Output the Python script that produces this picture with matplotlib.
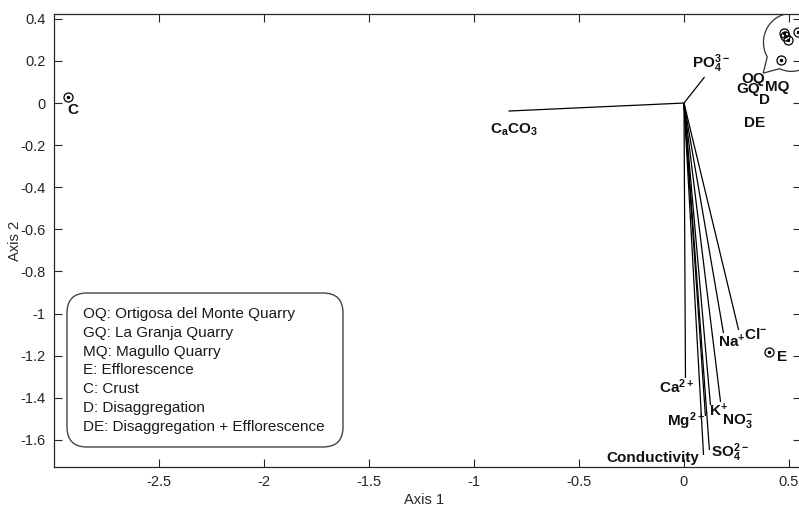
import numpy as np
import matplotlib
matplotlib.use("Agg")
import matplotlib.pyplot as plt
from matplotlib.patches import FancyBboxPatch, PathPatch
from matplotlib.path import Path
from matplotlib.transforms import IdentityTransform

plt.rcParams['font.family'] = ['Liberation Sans', 'DejaVu Sans']
plt.rcParams['axes.unicode_minus'] = False
plt.rcParams['mathtext.fontset'] = 'custom'
plt.rcParams['mathtext.bf'] = 'Liberation Sans:bold'
plt.rcParams['mathtext.rm'] = 'Liberation Sans:bold'
plt.rcParams['mathtext.default'] = 'bf'

# ---------------- data ----------------
vec_names = ['C$_a$CO$_3$', 'PO$_4^{3-}$', 'Ca$^{2+}$', 'Mg$^{2+}$', 'K$^{+}$',
             'NO$_3^{-}$', 'SO$_4^{2-}$', 'Conductivity', 'Na$^{+}$', 'Cl$^{-}$']
vec_x = [-0.836, 0.098, 0.007, 0.102, 0.126, 0.174, 0.121, 0.093, 0.188, 0.260]
vec_y = [-0.038, 0.124, -1.306, -1.487, -1.435, -1.420, -1.648, -1.672, -1.093, -1.078]

sample_names = ['OQ', 'GQ', 'MQ', 'D', 'DE', 'E', 'C']
sample_x = [0.474, 0.493, 0.545, 0.483, 0.464, 0.406, -2.935]
sample_y = [0.333, 0.299, 0.337, 0.318, 0.204, -1.183, 0.028]

x_ticks = [-2.5, -2, -1.5, -1, -0.5, 0, 0.5]
x_ticklabels = ['-2.5', '-2', '-1.5', '-1', '-0.5', '0', '0.5']
y_ticks = [0.4, 0.2, 0, -0.2, -0.4, -0.6, -0.8, -1, -1.2, -1.4, -1.6]
y_ticklabels = ['0.4', '0.2', '0', '-0.2', '-0.4', '-0.6', '-0.8', '-1', '-1.2', '-1.4', '-1.6']

legend_lines = ['OQ: Ortigosa del Monte Quarry', 'GQ: La Granja Quarry',
                'MQ: Magullo Quarry', 'E: Efflorescence', 'C: Crust',
                'D: Disaggregation', 'DE: Disaggregation + Efflorescence']

# ---------------- layout / style ----------------
W, H = 799, 509
vec_label_style = {  # offset in pixels (x right, y up), ha
    'C$_a$CO$_3$': ((6, -19), 'center'),
    'PO$_4^{3-}$': ((-13, 13), 'left'),
    'Ca$^{2+}$': ((-9, -9), 'center'),
    'Mg$^{2+}$': ((0, -5), 'right'),
    'K$^{+}$': ((-1, -6), 'left'),
    'NO$_3^{-}$': ((1, -19), 'left'),
    'SO$_4^{2-}$': ((2, -3), 'left'),
    'Conductivity': ((-4, -3), 'right'),
    'Na$^{+}$': ((-5, -9), 'left'),
    'Cl$^{-}$': ((5, -5), 'left'),
}
sample_label_off = {'OQ': (-30, -46), 'GQ': (-39, -49), 'MQ': (-21, -55),
                    'D': (-21, -64), 'DE': (-27, -63), 'E': (13, -5), 'C': (5, -13)}

fig = plt.figure(figsize=(W / 100, H / 100), dpi=100)
ax_l, ax_r, ax_t, ax_b = 54, 801, 14, 467
ax = fig.add_axes([ax_l / W, 1 - ax_b / H, (ax_r - ax_l) / W, (ax_b - ax_t) / H])
ax.set_xlim(-3.0, -3.0 + (ax_r - ax_l) / 210.0)
ax.set_ylim(-1.729, 0.423)

dark = '#262626'
for s in ax.spines.values():
    s.set_color(dark)
    s.set_linewidth(0.9)
ax.tick_params(direction='in', length=5.5, width=0.8, color=dark, labelcolor=dark,
               labelsize=10.5, top=True, right=True, pad=6)
ax.set_xticks(x_ticks)
ax.set_xticklabels(x_ticklabels)
ax.set_yticks(y_ticks)
ax.set_yticklabels(y_ticklabels)
ax.set_xlabel('Axis 1', fontsize=10.5, color=dark)
ax.set_ylabel('Axis 2', fontsize=10.5, color=dark)
ax.xaxis.set_label_coords((424 - ax_l) / (ax_r - ax_l), -0.058)
ax.yaxis.set_label_coords(-0.043, 0.5)

# vectors
for name, vx, vy in zip(vec_names, vec_x, vec_y):
    ax.plot([0, vx], [0, vy], color='black', lw=0.9, solid_capstyle='butt')
    off, ha = vec_label_style[name]
    ax.annotate(name, (vx, vy), xytext=off, textcoords='offset pixels',
                ha=ha, va='center', fontsize=11, fontweight='bold', color='#111111')

# samples
ax.plot(sample_x, sample_y, 'o', ms=6.5, mfc='none', mec='black', mew=0.9)
ax.plot(sample_x, sample_y, '.', ms=3, color='black')
for name, sx, sy in zip(sample_names, sample_x, sample_y):
    ax.annotate(name, (sx, sy), xytext=sample_label_off[name], textcoords='offset pixels',
                ha='center', va='center', fontsize=11, fontweight='bold', color='#111111')

# speech bubble around the quarry cluster (in data units)
cx, cy = np.mean(sample_x[:5]) + 0.02, np.mean(sample_y[:5]) - 0.01
rx, ry = 28 / 210.0, 29 / 210.5
a1, a2 = np.deg2rad(245), np.deg2rad(210)
th = np.linspace(a1, a2 + 2 * np.pi, 120)
pts = np.column_stack([cx + rx * np.cos(th), cy + ry * np.sin(th)])
tip = (cx + rx * np.cos(np.deg2rad(227)) * 1.48, cy + ry * np.sin(np.deg2rad(227)) * 1.45)
verts = np.vstack([pts, tip, pts[0]])
codes = [Path.MOVETO] + [Path.LINETO] * (len(verts) - 2) + [Path.CLOSEPOLY]
ax.add_patch(PathPatch(Path(verts, codes), facecolor='none', edgecolor='#333333', lw=0.9))

# legend box
bx0, by0, bx1, by1 = 67, 293, 343, 447
box = FancyBboxPatch((bx0, H - by1), bx1 - bx0, by1 - by0,
                     boxstyle='round,pad=0,rounding_size=20',
                     transform=IdentityTransform(), facecolor='white',
                     edgecolor='#444444', lw=1.0)
fig.patches.append(box)
for i, line in enumerate(legend_lines):
    fig.text(83 / W, 1 - (314 + i * 18.8) / H, line, fontsize=11, color='#1a1a1a',
             ha='left', va='center')

fig.savefig('out.png', dpi=100)
